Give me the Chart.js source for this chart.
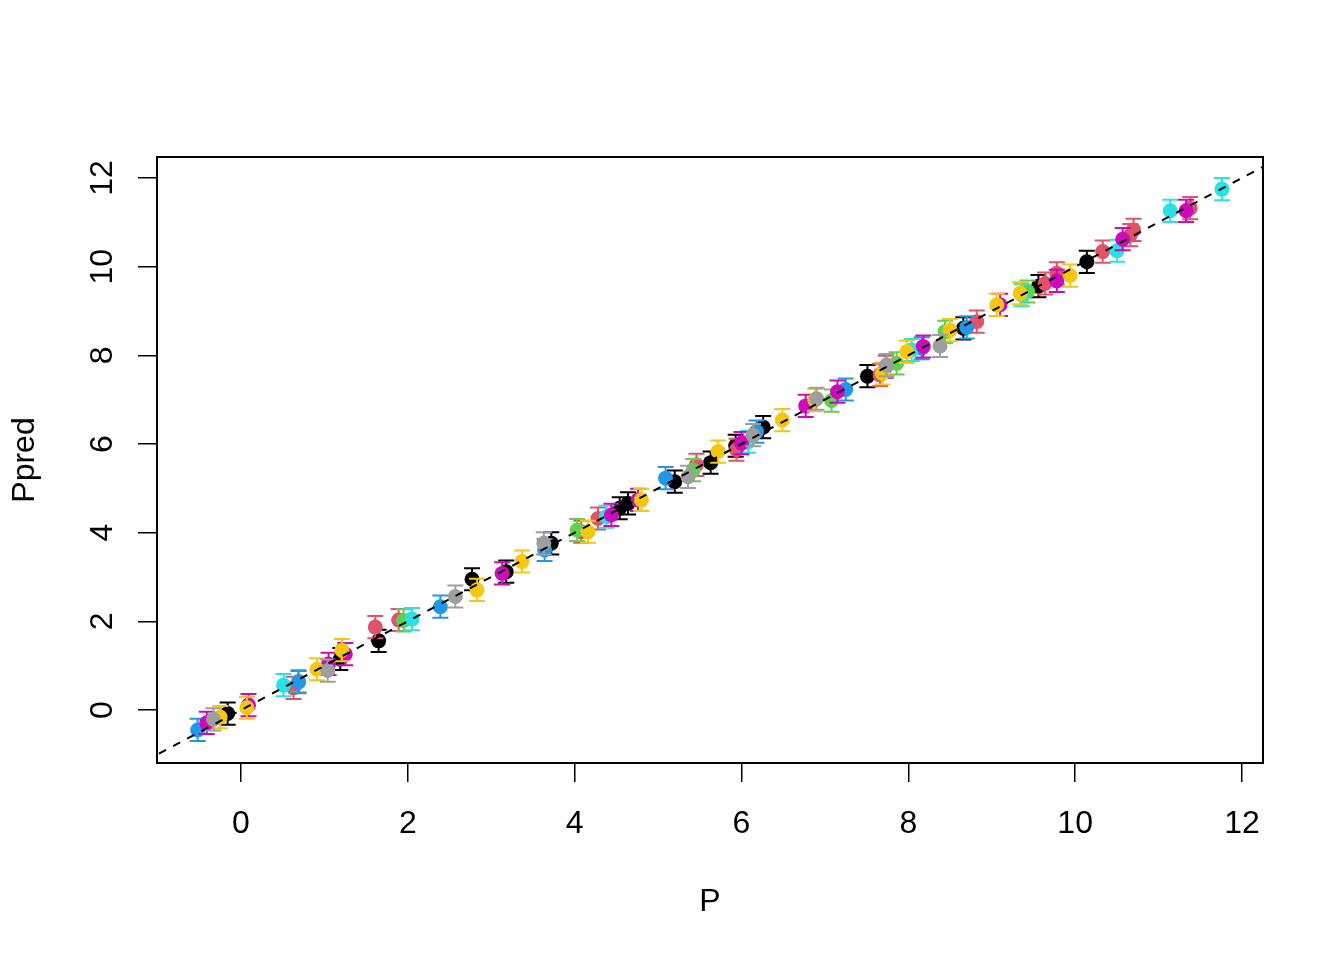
<!DOCTYPE html>
<html>
<head>
<meta charset="utf-8">
<script src="https://cdn.jsdelivr.net/npm/chart.js@4.4.1/dist/chart.umd.min.js"></script>
<style>
  html, body { margin: 0; background: #fff; }
  canvas { display: block; }
</style>
</head>
<body>
<canvas id="myChart" width="1344" height="960"></canvas>
<script>
// observed P vs predicted P, one pair of arrays per colour group
const pBlack    = [-0.16, 1.19, 1.65, 2.77, 3.18, 3.72, 4.54, 4.64, 5.20, 5.63, 5.93, 6.26, 7.51, 8.66, 9.56, 10.14];
const predBlack = [-0.08, 1.15, 1.56, 2.95, 3.12, 3.76, 4.55, 4.66, 5.15, 5.58, 5.96, 6.38, 7.53, 8.61, 9.56, 10.11];
const pRed      = [0.63, 1.61, 1.89, 4.08, 4.28, 5.46, 5.94, 7.66, 7.73, 8.82, 9.64, 9.78, 10.33, 10.66, 10.70, 11.38];
const predRed   = [0.50, 1.87, 2.03, 4.02, 4.32, 5.53, 5.87, 7.56, 7.74, 8.76, 9.62, 9.85, 10.34, 10.71, 10.83, 11.32];
const pGreen    = [0.69, 1.95, 4.03, 5.42, 7.08, 7.86, 8.44, 9.43];
const predGreen = [0.65, 2.02, 4.06, 5.41, 6.98, 7.82, 8.53, 9.44];
const pBlue     = [-0.52, 0.69, 2.39, 3.64, 5.09, 6.18, 7.25, 8.16, 8.70];
const predBlue  = [-0.45, 0.63, 2.33, 3.61, 5.23, 6.28, 7.23, 8.16, 8.63];
const pCyan     = [0.51, 2.05, 4.38, 6.08, 8.04, 9.36, 10.50, 11.14, 11.76];
const predCyan  = [0.56, 2.05, 4.36, 6.05, 8.12, 9.36, 10.36, 11.26, 11.75];
const pMagenta    = [-0.41, 0.09, 1.05, 1.25, 3.13, 4.44, 4.76, 6.00, 6.77, 7.15, 8.18, 9.10, 9.78, 10.57, 11.33];
const predMagenta = [-0.29, 0.11, 1.04, 1.26, 3.08, 4.40, 4.74, 6.02, 6.86, 7.18, 8.20, 9.14, 9.68, 10.62, 11.26];
const pYellow    = [-0.25, 0.07, 0.91, 1.21, 2.83, 3.37, 4.16, 4.80, 5.72, 6.49, 6.88, 7.69, 7.98, 8.50, 9.06, 9.34, 9.94];
const predYellow = [-0.16, 0.05, 0.92, 1.35, 2.71, 3.35, 4.02, 4.74, 5.83, 6.54, 6.99, 7.59, 8.08, 8.57, 9.14, 9.40, 9.80];
const pGray     = [-0.33, 1.04, 2.57, 3.63, 5.36, 6.14, 6.90, 7.74, 8.38];
const predGray  = [-0.21, 0.89, 2.56, 3.76, 5.26, 6.20, 7.02, 7.78, 8.21];

const predErr = 0.25;          // half-length of the error bars
const refLine = [-2, 14];      // y = x reference line
const xTicks = [0, 2, 4, 6, 8, 10, 12];
const yTicks = [0, 2, 4, 6, 8, 10, 12];

const groups = [
  { color: '#000000', p: pBlack, pred: predBlack },
  { color: '#DF536B', p: pRed, pred: predRed },
  { color: '#61D04F', p: pGreen, pred: predGreen },
  { color: '#2297E6', p: pBlue, pred: predBlue },
  { color: '#28E2E5', p: pCyan, pred: predCyan },
  { color: '#CD0BBC', p: pMagenta, pred: predMagenta },
  { color: '#F5C710', p: pYellow, pred: predYellow },
  { color: '#9E9E9E', p: pGray, pred: predGray }
];

const FONT = '32px "Liberation Sans", Arial, sans-serif';

const datasets = groups.map(g => ({
  type: 'scatter',
  data: g.p.map((v, i) => ({ x: v, y: g.pred[i] })),
  backgroundColor: g.color,
  borderWidth: 0,
  pointRadius: 7.5,
  pointHoverRadius: 7.5,
  errColor: g.color,
  order: 1
})).reverse();

datasets.push({
  type: 'line',
  data: refLine.map(v => ({ x: v, y: v })),
  borderColor: '#000',
  borderWidth: 2,
  borderDash: [8, 8],
  pointRadius: 0,
  fill: false,
  clip: 0,
  order: 0
});

// error bars, box, R-style labels
const rStyle = {
  id: 'rStyle',
  afterDatasetDraw(chart, args) {
    const ds = chart.data.datasets[args.index];
    if (!ds.errColor) return;
    const ctx = chart.ctx, xs = chart.scales.x, ys = chart.scales.y;
    ctx.save();
    ctx.strokeStyle = ds.errColor;
    ctx.lineWidth = 2;
    ds.data.forEach(pt => {
      const px = xs.getPixelForValue(pt.x);
      const top = ys.getPixelForValue(pt.y + predErr);
      const bot = ys.getPixelForValue(pt.y - predErr);
      ctx.beginPath();
      ctx.moveTo(px, top); ctx.lineTo(px, bot);
      ctx.moveTo(px - 8, top); ctx.lineTo(px + 8, top);
      ctx.moveTo(px - 8, bot); ctx.lineTo(px + 8, bot);
      ctx.stroke();
    });
    ctx.restore();
  },
  afterDraw(chart) {
    const ctx = chart.ctx, a = chart.chartArea;
    const xs = chart.scales.x, ys = chart.scales.y;
    ctx.save();
    ctx.strokeStyle = '#000';
    ctx.lineWidth = 2;
    ctx.strokeRect(a.left, a.top, a.right - a.left, a.bottom - a.top);

    ctx.fillStyle = '#000';
    ctx.font = FONT;
    ctx.textAlign = 'center';
    ctx.textBaseline = 'alphabetic';
    xTicks.forEach(v => ctx.fillText(String(v), xs.getPixelForValue(v), a.bottom + 70));
    yTicks.forEach(v => {
      ctx.save();
      ctx.translate(a.left - 45.5, ys.getPixelForValue(v));
      ctx.rotate(-Math.PI / 2);
      ctx.fillText(String(v), 0, 0);
      ctx.restore();
    });

    ctx.fillText('P', (a.left + a.right) / 2, a.bottom + 148);
    ctx.save();
    ctx.translate(a.left - 123.5, (a.top + a.bottom) / 2);
    ctx.rotate(-Math.PI / 2);
    ctx.fillText('Ppred', 0, 0);
    ctx.restore();
    ctx.restore();
  }
};

const ctx = document.getElementById('myChart').getContext('2d');
const myChart = new Chart(ctx, {
  type: 'scatter',
  data: { datasets: datasets },
  options: {
    responsive: false,
    animation: false,
    devicePixelRatio: 1,
    layout: { padding: { top: 157, right: 81, left: 0, bottom: 0 } },
    plugins: { legend: { display: false }, tooltip: { enabled: false } },
    scales: {
      x: {
        type: 'linear',
        min: -1.007,
        max: 12.252,
        afterBuildTicks: s => { s.ticks = xTicks.map(v => ({ value: v })); },
        afterFit: s => { s.height = 197; },
        grid: { drawOnChartArea: false, drawTicks: true, tickLength: 19, color: '#000', lineWidth: 1.5 },
        border: { display: false },
        ticks: { color: 'rgba(0,0,0,0)', font: { size: 32 } }
      },
      y: {
        type: 'linear',
        min: -1.1955,
        max: 12.474,
        afterBuildTicks: s => { s.ticks = yTicks.map(v => ({ value: v })); },
        afterFit: s => { s.width = 157; },
        grid: { drawOnChartArea: false, drawTicks: true, tickLength: 19, color: '#000', lineWidth: 1.5 },
        border: { display: false },
        ticks: { color: 'rgba(0,0,0,0)', font: { size: 32 } }
      }
    }
  },
  plugins: [rStyle]
});
</script>
</body>
</html>
